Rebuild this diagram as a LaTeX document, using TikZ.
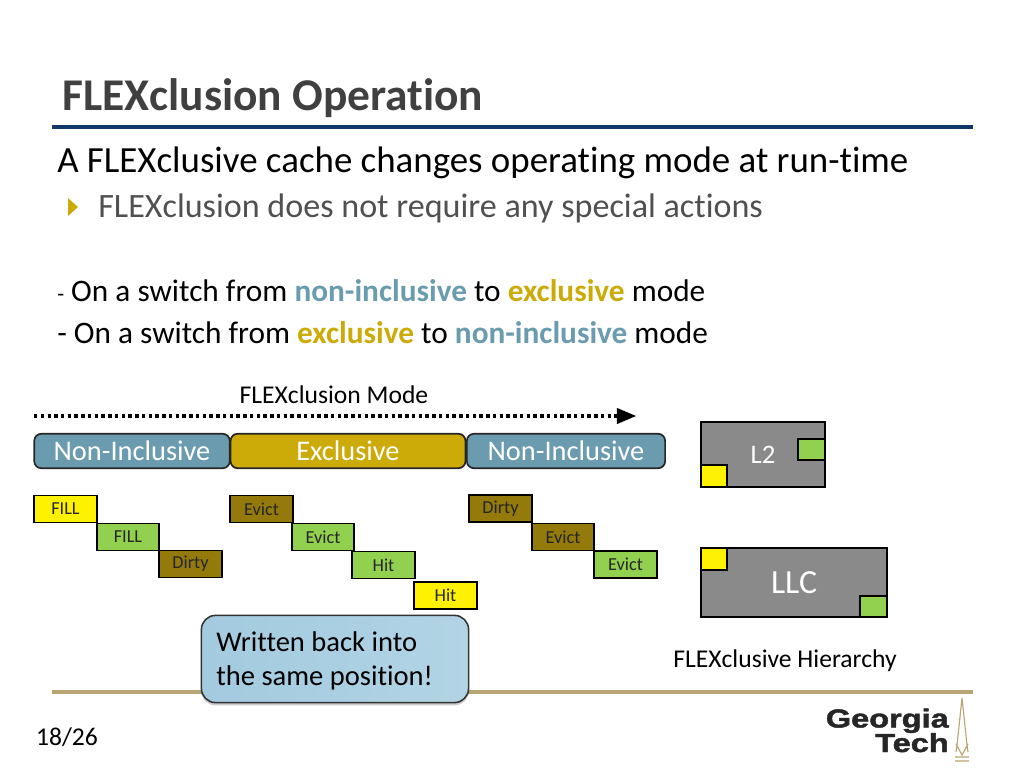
\documentclass[tikz,border=0pt]{standalone}
\usepackage{fontspec}
\setmainfont{Carlito}[Ligatures=CommonOff]
\newfontfamily\logofont{Liberation Sans}[BoldFeatures={FakeBold=1.5}]
\usetikzlibrary{arrows,positioning,shadows}

\definecolor{titlegray}{HTML}{404040}
\definecolor{subgray}{HTML}{505050}
\definecolor{ruleblue}{HTML}{12386A}
\definecolor{rulegold}{HTML}{B9A473}
\definecolor{nonincl}{HTML}{6A9BAE}
\definecolor{excl}{HTML}{CCAB08}
\definecolor{dirtybrown}{HTML}{937A0B}
\definecolor{hitgreen}{HTML}{92D050}
\definecolor{cachegray}{HTML}{8A8A8A}
\definecolor{noteblueA}{HTML}{A3CADF}
\definecolor{noteblueB}{HTML}{B2D4E5}

\newcommand{\fs}[1]{\fontsize{#1}{#1}\selectfont}

\tikzset{
	textline/.style={anchor=base west,inner sep=0pt},
	modeband/.style={draw=black!85,line width=1.2pt,rounded corners=5pt,text=white,inner sep=0pt,font=\fs{20.2}},
	blockbox/.style={draw=black,line width=1.1pt,inner sep=0pt,font=\fs{13},text=black!85},
	fillblock/.style={blockbox,fill=yellow},
	cleanblock/.style={blockbox,fill=hitgreen},
	dirtyblock/.style={blockbox,fill=dirtybrown},
	cachebox/.style={draw=black,line width=1.1pt,fill=cachegray,text=white,inner sep=0pt},
	smallyellow/.style={draw=black,line width=1.1pt,fill=yellow,inner sep=0pt,minimum width=18.5pt,minimum height=15.5pt},
	smallgreen/.style={draw=black,line width=1.1pt,fill=hitgreen,inner sep=0pt,minimum width=19pt,minimum height=15pt}
}

\begin{document}
\begin{tikzpicture}[x=0.025cm,y=-0.025cm]
	
	\useasboundingbox (0,0) rectangle (1024,768);
	
	% heading
	\node[textline,text=titlegray,font=\fs{32.3}\bfseries] (title) at (62,111) {FLEXclusion Operation};
	\coordinate (ruleTL) at (52,127);
	\coordinate (ruleTR) at (973,127);
	\draw[ruleblue,line width=2.2pt] (ruleTL) -- (ruleTR);
	\node[textline,font=\fs{26.25}] (head) at (57,172) {A FLEXclusive cache changes operating mode at run-time};
	\node[textline,text=subgray,font=\fs{24.25}] (sub) at (98,217) {FLEXclusion does not require any special actions};
	\fill[excl] (68,198) -- (78,207) -- (68,216) -- cycle;
	
	\node[textline,font=\fs{22.25}] (lineA) at (57,301) {{\fs{16}-} On a switch from \textcolor{nonincl}{\textbf{non-inclusive}} to \textcolor{excl}{\textbf{exclusive}} mode};
	\node[textline,font=\fs{22.25}] (lineB) at (57,343) {- On a switch from \textcolor{excl}{\textbf{exclusive}} to \textcolor{nonincl}{\textbf{non-inclusive}} mode};
	
	% mode timeline
	\node[font=\fs{18.2}] (modelabel) at (334,395) {FLEXclusion Mode};
	\coordinate (timeA) at (34,416);
	\coordinate (timeB) at (636,416);
	\draw[line width=2.2pt,dash pattern=on 2.4pt off 2.4pt,-triangle 45] (timeA) -- (timeB);
	
	\node[modeband,fill=nonincl,minimum width=139pt,minimum height=24.5pt] (bandA) at (132,451) {Non-Inclusive};
	\node[modeband,fill=excl,minimum width=167pt,minimum height=24.5pt] (bandB) at (348,451) {Exclusive};
	\node[modeband,fill=nonincl,minimum width=141pt,minimum height=24.5pt] (bandC) at (566,451) {Non-Inclusive};
	
	% first non-inclusive phase
	\node[fillblock,minimum width=44.5pt,minimum height=19.5pt] (fillA) at (65.5,509) {FILL};
	\node[cleanblock,minimum width=44pt,minimum height=19.5pt] (fillB) at (128,537) {FILL};
	\node[dirtyblock,minimum width=44.5pt,minimum height=19pt] (dirtyA) at (190.5,564) {Dirty};
	
	% exclusive phase
	\node[dirtyblock,minimum width=44.5pt,minimum height=19.5pt] (evictA) at (261.5,509) {Evict};
	\node[cleanblock,minimum width=44pt,minimum height=19.5pt] (evictB) at (323,537) {Evict};
	\node[cleanblock,minimum width=44.5pt,minimum height=19.5pt] (hitA) at (383.5,565) {Hit};
	\node[fillblock,minimum width=44.5pt,minimum height=19.5pt] (hitB) at (445.5,595.5) {Hit};
	
	% second non-inclusive phase
	\node[dirtyblock,minimum width=44.5pt,minimum height=19pt] (dirtyB) at (500.5,508.5) {Dirty};
	\node[dirtyblock,minimum width=44pt,minimum height=19.5pt] (evictC) at (563,537) {Evict};
	\node[cleanblock,minimum width=44.5pt,minimum height=19pt] (evictD) at (625.5,564.5) {Evict};
	
	% hierarchy
	\node[cachebox,minimum width=88pt,minimum height=46pt,font=\fs{19}] (ltwo) at (763,454.5) {L2};
	\node[smallyellow,anchor=south west] (ltwoY) at (ltwo.south west) {};
	\node[smallgreen,anchor=east] (ltwoG) at ([yshift=3.5pt]ltwo.east) {};
	\node[cachebox,minimum width=132pt,minimum height=49pt,font=\fs{24}] (llc) at (794,582.5) {LLC};
	\node[smallyellow,anchor=north west] (llcY) at (llc.north west) {};
	\node[smallgreen,anchor=south east] (llcG) at (llc.south east) {};
	\node[font=\fs{18.2}] (hierlabel) at (785,661) {FLEXclusive Hierarchy};
	
	% footer
	\coordinate (ruleBL) at (52,692);
	\coordinate (ruleBR) at (973,692);
	\draw[rulegold,line width=2.2pt] (ruleBL) -- (ruleBR);
	\node[font=\fs{18.2}] (pagenum) at (67,737) {18/26};
	
	\node[draw=black!80,line width=1.1pt,rounded corners=10pt,left color=noteblueA,right color=noteblueB,
		drop shadow={opacity=0.4,shadow xshift=0pt,shadow yshift=-2pt},
		minimum width=190pt,minimum height=62pt] (note) at (335,659) {};
	\node[textline,font=\fs{20.3}] (noteA) at (216,651) {Written back into};
	\node[textline,font=\fs{20.3}] (noteB) at (216,685) {the same position!};
	
	% logo
	\node[anchor=base east,inner sep=0pt,text=black!85,font=\fs{18.5}\logofont\bfseries] (logoA) at (949,727.5) {\scalebox{1.25}[1]{Georgia}};
	\node[anchor=base east,inner sep=0pt,text=black!85,font=\fs{18.5}\logofont\bfseries] (logoB) at (949,752) {\scalebox{1.25}[1]{Tech}};
	\draw[rulegold,line width=0.8pt] (962,698) -- (957,745) -- (956,752) (962,698) -- (967,745) -- (968,752)
		(956,744) -- (962,755) -- (968,744) (955,757) -- (969,757) (955,761) -- (969,761);
	
\end{tikzpicture}
\end{document}
